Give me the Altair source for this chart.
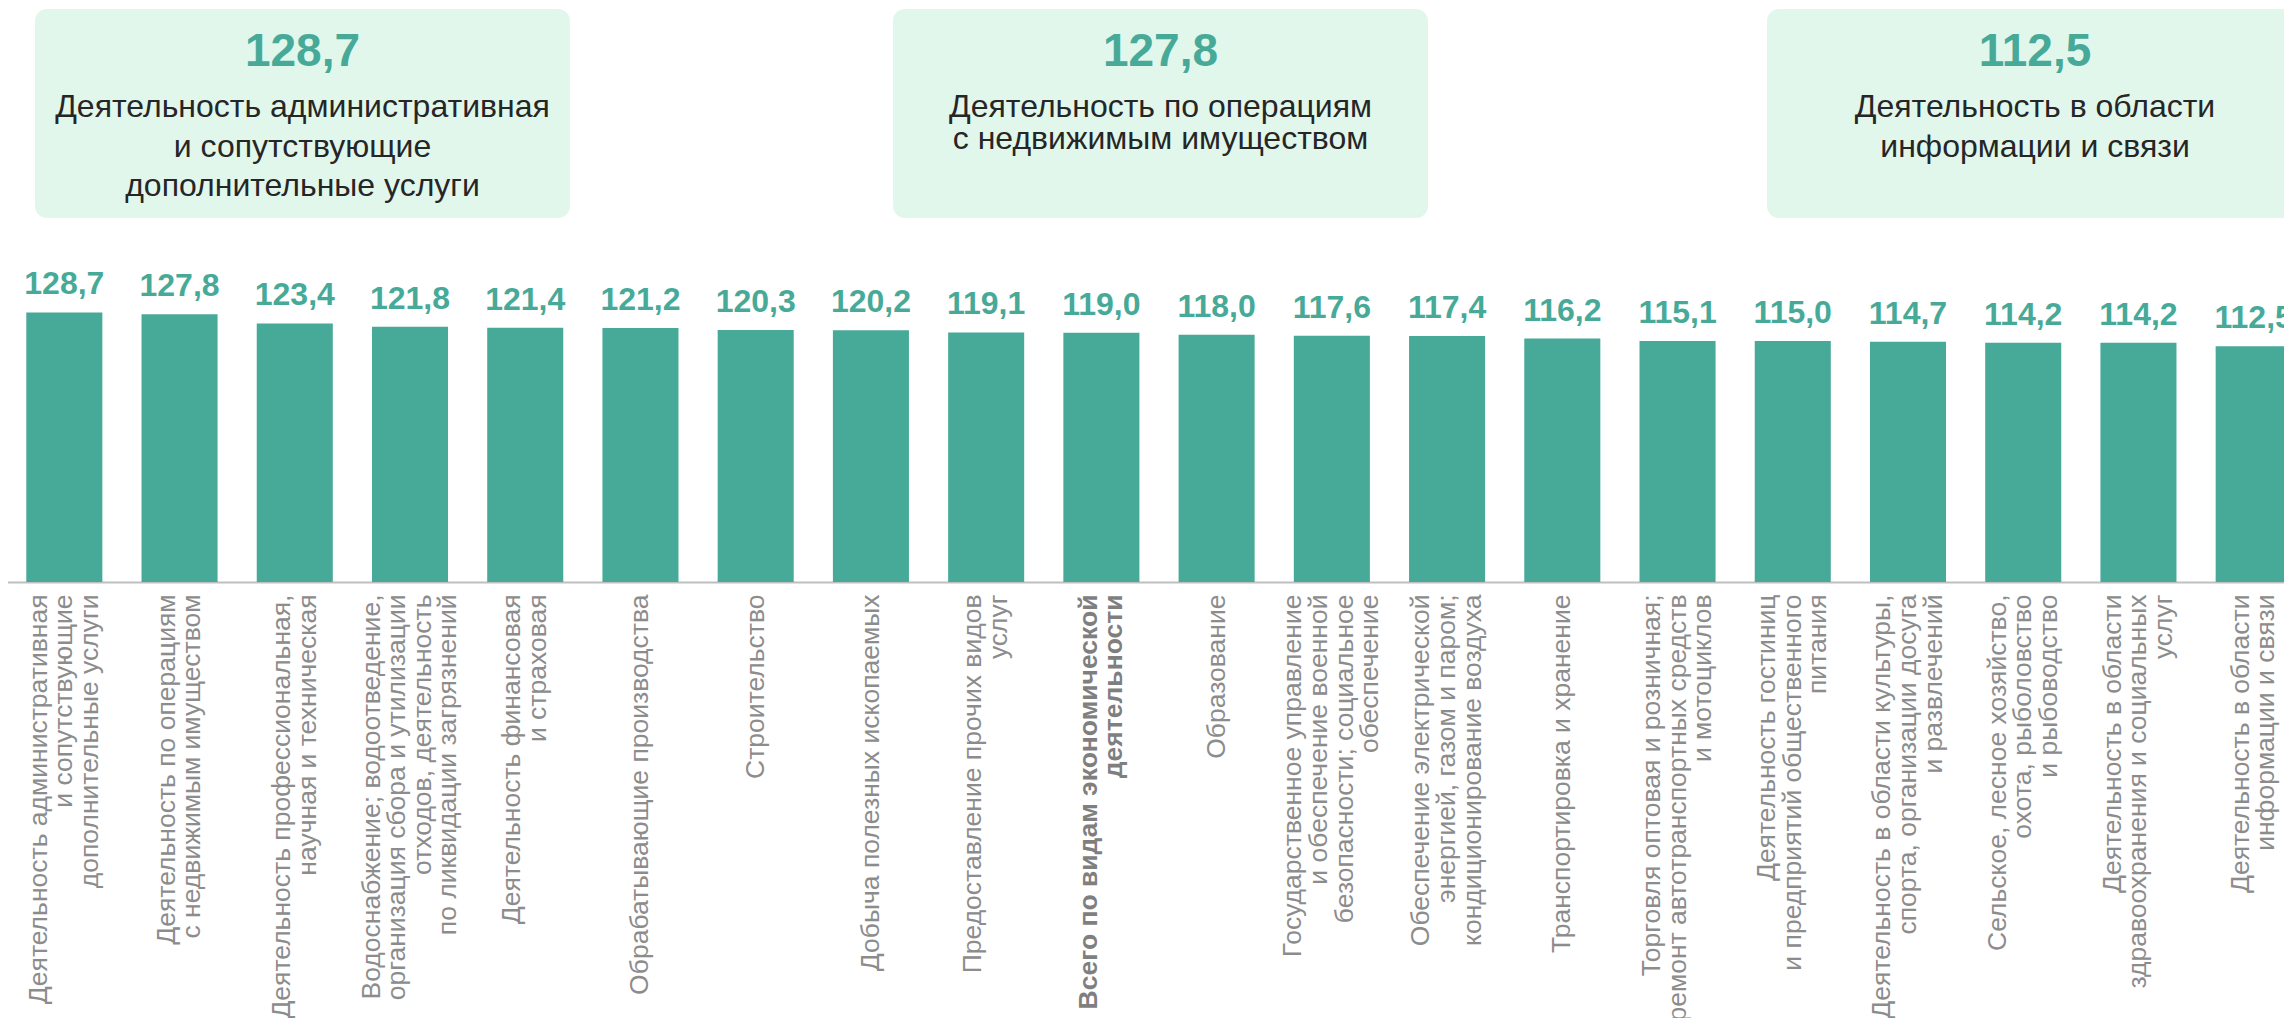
import altair as alt
import pandas as pd

# ---------------- data ----------------
categories = [
    "Деятельность административная\nи сопутствующие\nдополнительные услуги",
    "Деятельность по операциям\nс недвижимым имуществом",
    "Деятельность профессиональная,\nнаучная и техническая",
    "Водоснабжение; водоотведение,\nорганизация сбора и утилизации\nотходов, деятельность\nпо ликвидации загрязнений",
    "Деятельность финансовая\nи страховая",
    "Обрабатывающие производства",
    "Строительство",
    "Добыча полезных ископаемых",
    "Предоставление прочих видов\nуслуг",
    "Всего по видам экономической\nдеятельности",
    "Образование",
    "Государственное управление\nи обеспечение военной\nбезопасности; социальное\nобеспечение",
    "Обеспечение электрической\nэнергией, газом и паром;\nкондиционирование воздуха",
    "Транспортировка и хранение",
    "Торговля оптовая и розничная;\nремонт автотранспортных средств\nи мотоциклов",
    "Деятельность гостиниц\nи предприятий общественного\nпитания",
    "Деятельность в области культуры,\nспорта, организации досуга\nи развлечений",
    "Сельское, лесное хозяйство,\nохота, рыболовство\nи рыбоводство",
    "Деятельность в области\nздравоохранения и социальных\nуслуг",
    "Деятельность в области\nинформации и связи",
]
values = [128.7, 127.8, 123.4, 121.8, 121.4, 121.2, 120.3, 120.2, 119.1, 119.0,
          118.0, 117.6, 117.4, 116.2, 115.1, 115.0, 114.7, 114.2, 114.2, 112.5]
total_prefix = "Всего"

def fmt(v):
    return f"{v:.1f}".replace(".", ",")

df = pd.DataFrame({"cat": categories, "value": values})
df["label"] = [fmt(v) for v in values]

# highlighted: two highest and the lowest
order = sorted(range(len(values)), key=lambda i: -values[i])
highlight = [order[0], order[1], order[-1]]

# ---------------- layout (pixels in the view) ----------------
TEAL = "#47AA98"
BOX_FILL = "#E1F7EC"
W, H = 2276, 574
BOX_X = [(27, 562), (885, 1420), (1759, 2300)]
BOX_Y = (1, 210)
BOX_CX = [294.5, 1152.5, 2027]
NUM_Y = 58
LINE_Y0 = 99
LINE_STEP = [39.5, 32, 39.5]
LABEL_LH = 25.6

box_rows, num_rows, line_rows = [], [], []
for k, idx in enumerate(highlight):
    box_rows.append({"x0": BOX_X[k][0], "x1": BOX_X[k][1], "y0": BOX_Y[0], "y1": BOX_Y[1]})
    num_rows.append({"cx": BOX_CX[k], "y": NUM_Y, "t": fmt(values[idx])})
    for j, line in enumerate(categories[idx].split("\n")):
        line_rows.append({"cx": BOX_CX[k], "y": LINE_Y0 + j * LINE_STEP[k], "t": line})

boxes_df = pd.DataFrame(box_rows)
nums_df = pd.DataFrame(num_rows)
lines_df = pd.DataFrame(line_rows)

boxes = alt.Chart(boxes_df).mark_rect(color=BOX_FILL, cornerRadius=12).encode(
    x=alt.X("x0:Q", scale=None, axis=None),
    x2="x1:Q",
    y=alt.Y("y0:Q", scale=None, axis=None),
    y2="y1:Q",
)
nums = alt.Chart(nums_df).mark_text(
    font="Liberation Sans", fontWeight="bold", fontSize=46, color=TEAL,
    align="center", baseline="alphabetic",
).encode(
    x=alt.X("cx:Q", scale=None, axis=None),
    y=alt.Y("y:Q", scale=None, axis=None),
    text="t:N",
)
lines = alt.Chart(lines_df).mark_text(
    font="Liberation Sans", fontSize=32, color="#262626",
    align="center", baseline="middle",
).encode(
    x=alt.X("cx:Q", scale=None, axis=None),
    y=alt.Y("y:Q", scale=None, axis=None),
    text="t:N",
)

xscale = alt.Scale(range=[-1.3, 2303.3], paddingInner=0.34, paddingOuter=0.17)
yscale = alt.Scale(domain=[0, 274.0], nice=False, zero=True)
is_total = f"indexof(datum.value, '{total_prefix}') == 0"
nlines = "length(split(datum.value, '\\n'))"

x_axis = alt.Axis(
    title=None,
    labelAngle=-90,
    labelAlign="right",
    labelBaseline="middle",
    labelExpr="split(datum.label, '\\n')",
    labelFont="Liberation Sans",
    labelFontSize=26.5,
    labelLineHeight=LABEL_LH,
    labelColor=alt.condition(is_total, alt.value("#7F7F7F"), alt.value("#8C8C8C")),
    labelFontWeight=alt.condition(is_total, alt.value("bold"), alt.value("normal")),
    labelOffset={
        "condition": [
            {"test": f"{nlines} == {n}", "value": -(n - 1) * LABEL_LH / 2}
            for n in (2, 3, 4)
        ],
        "value": 0,
    },
    labelPadding=12,
    labelLimit=0,
    labelOverlap=False,
    labelBound=False,
    ticks=False,
    domainColor="#BFBFBF",
    domainWidth=2,
    grid=False,
)

bars = alt.Chart(df).mark_bar(color=TEAL).encode(
    x=alt.X("cat:N", sort=None, scale=xscale, axis=x_axis),
    y=alt.Y("value:Q", scale=yscale, axis=None),
)
vals = alt.Chart(df).mark_text(
    font="Liberation Sans", fontWeight="bold", fontSize=32, color=TEAL,
    align="center", baseline="alphabetic", dy=-18,
).encode(
    x=alt.X("cat:N", sort=None, scale=xscale, axis=None),
    y=alt.Y("value:Q", scale=yscale, axis=None),
    text="label:N",
)

chart = alt.layer(boxes, nums, lines, bars, vals).resolve_scale(
    x="independent", y="independent"
).properties(
    width=W,
    height=H,
    autosize=alt.AutoSizeParams(type="none"),
    padding={"left": 0, "right": 0, "top": 0, "bottom": 436},
).configure_view(stroke=None)

chart.save("out.html", embed_options={"renderer": "svg", "actions": False})
